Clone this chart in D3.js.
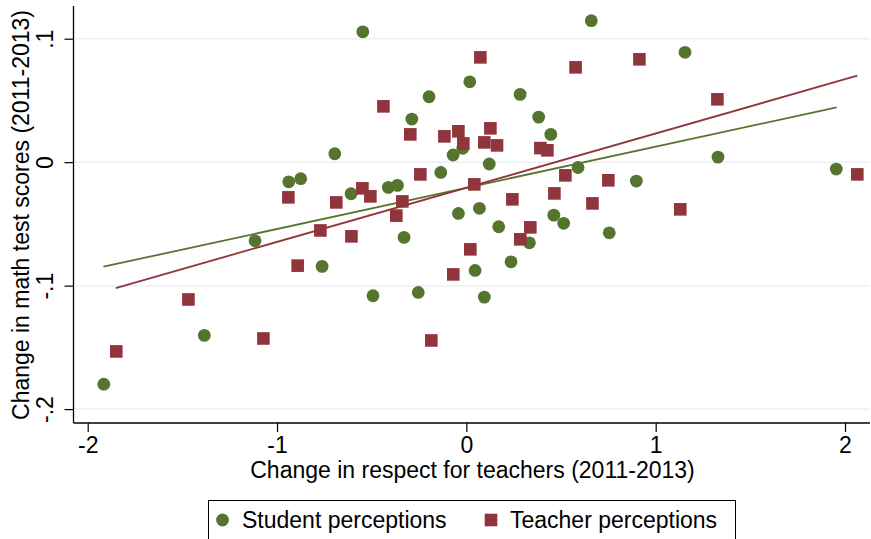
<!DOCTYPE html>
<html>
<head>
<meta charset="utf-8">
<script src="https://cdn.jsdelivr.net/npm/d3@7"></script>
<style>
  html, body { margin: 0; padding: 0; background: #fff; }
  svg { display: block; font-family: "Liberation Sans", Arial, Helvetica, sans-serif; }
</style>
</head>
<body>
<svg id="chart" width="871" height="539"></svg>
<script>
// Change in respect for teachers (x) vs change in math test scores (y), 2011-2013
const studentX = [-0.547, 0.018, -0.197, 0.284, -0.288, 0.382, 0.446, -0.695, -0.070, -0.019,
  0.121, -0.135, -0.938, -0.875, -0.609, -0.412, -0.364, -0.042, 0.069, 0.462,
  0.514, 0.590, 0.660, 1.155, 1.329, 0.898, 1.954, -1.116, -1.384, -1.915,
  0.171, 0.333, -0.329, -0.762, 0.046, 0.236, -0.493, -0.254, 0.095, 0.755];
const studentY = [0.1056, 0.0651, 0.0530, 0.0549, 0.0349, 0.0365, 0.0225, 0.0068, 0.0058, 0.0112,
  -0.0015, -0.0083, -0.0159, -0.0134, -0.0256, -0.0204, -0.0188, -0.0415, -0.0374, -0.0429,
  -0.0495, -0.0043, 0.1146, 0.0890, 0.0041, -0.0153, -0.0056, -0.0637, -0.1403, -0.1798,
  -0.0523, -0.0653, -0.0609, -0.0844, -0.0877, -0.0807, -0.1082, -0.1055, -0.1093, -0.0572];

const teacherX = [0.074, 0.577, 0.914, 1.326, -0.438, -0.296, -0.116, -0.042, -0.016, 0.127,
  0.095, 0.162, 0.391, 0.428, -0.243, 0.042, 0.523, -0.940, -0.687, -0.549,
  -0.507, -0.338, 0.243, 0.465, -0.370, 0.750, 0.666, 1.130, 2.065, -1.468,
  -1.072, -1.849, -0.891, -0.771, -0.607, 0.338, 0.285, 0.021, -0.069, -0.185];
const teacherY = [0.0849, 0.0768, 0.0833, 0.0509, 0.0452, 0.0225, 0.0209, 0.0250, 0.0152, 0.0274,
  0.0160, 0.0136, 0.0114, 0.0096, -0.0099, -0.0180, -0.0107, -0.0285, -0.0326, -0.0212,
  -0.0277, -0.0318, -0.0301, -0.0253, -0.0433, -0.0147, -0.0334, -0.0382, -0.0099, -0.1112,
  -0.1428, -0.1533, -0.0838, -0.0553, -0.0601, -0.0528, -0.0625, -0.0706, -0.0909, -0.1444];

// Linear fit endpoints for each series
const studentFitX = [-1.917, 1.956];
const studentFitY = [-0.0847, 0.0444];
const teacherFitX = [-1.852, 2.065];
const teacherFitY = [-0.1020, 0.0700];

const xTicks = [-2, -1, 0, 1, 2];
const xTickLabels = ["-2", "-1", "0", "1", "2"];
const yTicks = [0.1, 0, -0.1, -0.2];
const yTickLabels = [".1", "0", "-.1", "-.2"];

const seriesNames = ["Student perceptions", "Teacher perceptions"];
const green = "#55752f";
const red = "#90353b";
const fontSize = 23;

const svg = d3.select("#chart");

const plot = { left: 73.5, right: 870, top: 6, bottom: 423 };

const x = d3.scaleLinear().domain([-2, 2]).range([87.7, 845]);
const y = d3.scaleLinear().domain([-0.2, 0.1]).range([409.1, 38.7]);

// grid lines
svg.append("g")
  .selectAll("line")
  .data(yTicks)
  .join("line")
  .attr("x1", plot.left)
  .attr("x2", plot.right)
  .attr("y1", d => y(d))
  .attr("y2", d => y(d))
  .attr("stroke", "#eaf0f3")
  .attr("stroke-width", 1.5);

// fitted lines
const lineGen = d3.line().x(d => x(d[0])).y(d => y(d[1]));
svg.append("path")
  .datum(d3.zip(studentFitX, studentFitY))
  .attr("d", lineGen)
  .attr("fill", "none")
  .attr("stroke", green)
  .attr("stroke-width", 1.8);
svg.append("path")
  .datum(d3.zip(teacherFitX, teacherFitY))
  .attr("d", lineGen)
  .attr("fill", "none")
  .attr("stroke", red)
  .attr("stroke-width", 1.8);

// student points (circles)
svg.append("g")
  .selectAll("circle")
  .data(d3.zip(studentX, studentY))
  .join("circle")
  .attr("cx", d => x(d[0]))
  .attr("cy", d => y(d[1]))
  .attr("r", 6.4)
  .attr("fill", green);

// teacher points (squares)
const sq = 12.6;
svg.append("g")
  .selectAll("rect")
  .data(d3.zip(teacherX, teacherY))
  .join("rect")
  .attr("x", d => x(d[0]) - sq / 2)
  .attr("y", d => y(d[1]) - sq / 2)
  .attr("width", sq)
  .attr("height", sq)
  .attr("fill", red);

// x axis
const xAxis = svg.append("g")
  .attr("transform", `translate(0,${plot.bottom})`)
  .call(d3.axisBottom(x).tickValues(xTicks).tickFormat((d, i) => xTickLabels[i]).tickSize(9).tickPadding(5));
xAxis.select(".domain").remove();
xAxis.selectAll(".tick line").attr("stroke", "#000").attr("stroke-width", 1.2);
xAxis.selectAll(".tick text").attr("font-size", fontSize).attr("fill", "#000")
  .attr("font-family", "Liberation Sans, Arial, sans-serif");
svg.append("line")
  .attr("x1", plot.left).attr("x2", plot.right)
  .attr("y1", plot.bottom).attr("y2", plot.bottom)
  .attr("stroke", "#000").attr("stroke-width", 1.3);

// y axis
const yAxis = svg.append("g")
  .attr("transform", `translate(${plot.left},0)`)
  .call(d3.axisLeft(y).tickValues(yTicks).tickFormat((d, i) => yTickLabels[i]).tickSize(9));
yAxis.select(".domain").remove();
yAxis.selectAll(".tick line").attr("stroke", "#000").attr("stroke-width", 1.2);
yAxis.selectAll(".tick text")
  .attr("font-size", fontSize).attr("fill", "#000")
  .attr("font-family", "Liberation Sans, Arial, sans-serif")
  .attr("x", null).attr("dy", null)
  .attr("text-anchor", "middle")
  .attr("transform", "translate(-21,0) rotate(-90)");
svg.append("line")
  .attr("x1", plot.left).attr("x2", plot.left)
  .attr("y1", plot.top).attr("y2", plot.bottom)
  .attr("stroke", "#000").attr("stroke-width", 1.3);

// axis titles
svg.append("text")
  .attr("x", 472.5)
  .attr("y", 478)
  .attr("text-anchor", "middle")
  .attr("font-size", fontSize)
  .text("Change in respect for teachers (2011-2013)");
svg.append("text")
  .attr("transform", "translate(28.5,215) rotate(-90)")
  .attr("text-anchor", "middle")
  .attr("font-size", fontSize)
  .text("Change in math test scores (2011-2013)");

// legend
const legend = svg.append("g");
legend.append("rect")
  .attr("x", 208.5).attr("y", 500.5)
  .attr("width", 527).attr("height", 50)
  .attr("fill", "#fff").attr("stroke", "#000").attr("stroke-width", 1);
legend.append("circle").attr("cx", 222.5).attr("cy", 520).attr("r", 6.4).attr("fill", green);
legend.append("text").attr("x", 242).attr("y", 528).attr("font-size", fontSize).text(seriesNames[0]);
legend.append("rect").attr("x", 491 - sq / 2).attr("y", 520 - sq / 2).attr("width", sq).attr("height", sq).attr("fill", red);
legend.append("text").attr("x", 510).attr("y", 528).attr("font-size", fontSize).text(seriesNames[1]);
</script>
</body>
</html>
